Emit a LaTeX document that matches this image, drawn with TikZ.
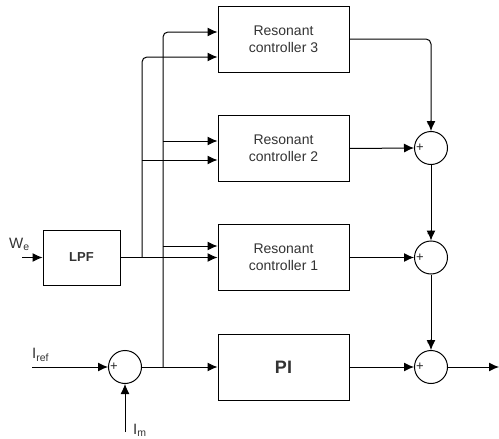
\documentclass[tikz,border=0pt]{standalone}
\usepackage{fontspec}
\setmainfont{Liberation Sans}
\usetikzlibrary{arrows.meta}
\begin{document}
\begin{tikzpicture}[x=1pt,y=-1pt,
  blk/.style={draw,line width=1pt,minimum width=131pt,minimum height=66pt,inner sep=0pt,align=center,font=\fontsize{14}{17}\selectfont,text=black!80},
  sumc/.style={draw,circle,line width=1pt,minimum size=33pt,inner sep=0pt},
  arr/.style={-{Latex[length=10pt,width=9pt]},line width=1pt},
  sgn/.style={font=\fontsize{13}{13}\selectfont,inner sep=0pt,text=black!85},
  lbl/.style={font=\fontsize{15}{15}\selectfont,inner sep=0pt,text=black!80}]
\useasboundingbox (0,0) rectangle (499,439);
\node[blk] (rc3) at (283.5,39) {Resonant\\controller 3};
\node[blk] (rc2) at (283.5,148.5) {Resonant\\controller 2};
\node[blk] (rc1) at (283.5,257.5) {Resonant\\controller 1};
\node[blk,font=\fontsize{18}{18}\selectfont\bfseries] (pi) at (283.5,367) {PI};
\node[blk,minimum width=77pt,minimum height=55pt,font=\fontsize{13}{13}\selectfont\bfseries] (lpf) at (81.5,257.5) {LPF};
\node[sumc] (s2) at (431,148) {};
\node[sumc] (s1) at (431,257.5) {};
\node[sumc] (s0) at (431,367) {};
\node[sumc] (e) at (125,367) {};
% signs
\foreach \s in {s2,s1,s0}{
  \node[sgn] at ([yshift=6pt]\s.north) {+};
  \node[sgn] at ([xshift=6pt]\s.west) {+};
}
\node[sgn] at ([xshift=6pt]e.west) {+};
\node[sgn] at ([yshift=-7pt]e.south) {-};
% labels
\node[lbl,anchor=west] (we) at (9,244) {W\textsubscript{e}};
\node[lbl,anchor=west] (ir) at (32,355) {I\textsubscript{ref}};
\node[lbl,anchor=west] (imt) at (133,430) {I\textsubscript{m}};
% coordinates
\coordinate (wein) at (22,257.5);
\coordinate (irin) at (32,367);
\coordinate (imin) at (125,432);
\coordinate (out) at (499,367);
\coordinate (a1) at (142,257.5);
\coordinate (a2) at (142,160);
\coordinate (a3) at (142,57);
\coordinate (b0) at (163,367);
\coordinate (b1) at (163,246);
\coordinate (b2) at (163,141);
\coordinate (b3) at (163,32);
\coordinate (c3) at (431,39);
% connectors
\draw[arr] (wein) -- (lpf.west);
\draw[arr] (irin) -- (e.west);
\draw[arr] (imin) -- (e.south);
\draw[arr] (e.east) -- (pi.west);
\draw[arr] (lpf.east) -- (lpf.east -| rc1.west);
\draw[arr,rounded corners=5pt] (a1) -- (a3) -- (a3 -| rc3.west);
\draw[arr] (a2) -- (a2 -| rc2.west);
\draw[arr,rounded corners=5pt] (b0) -- (b3) -- (b3 -| rc3.west);
\draw[arr] (b2) -- (b2 -| rc2.west);
\draw[arr] (b1) -- (b1 -| rc1.west);
\draw[arr,rounded corners=5pt] (rc3.east) -- (c3) -- (s2.north);
\draw[arr] (rc2.east) -- (s2.west);
\draw[arr] (s2.south) -- (s1.north);
\draw[arr] (rc1.east) -- (s1.west);
\draw[arr] (s1.south) -- (s0.north);
\draw[arr] (pi.east) -- (s0.west);
\draw[arr] (s0.east) -- (out);
\end{tikzpicture}
\end{document}
